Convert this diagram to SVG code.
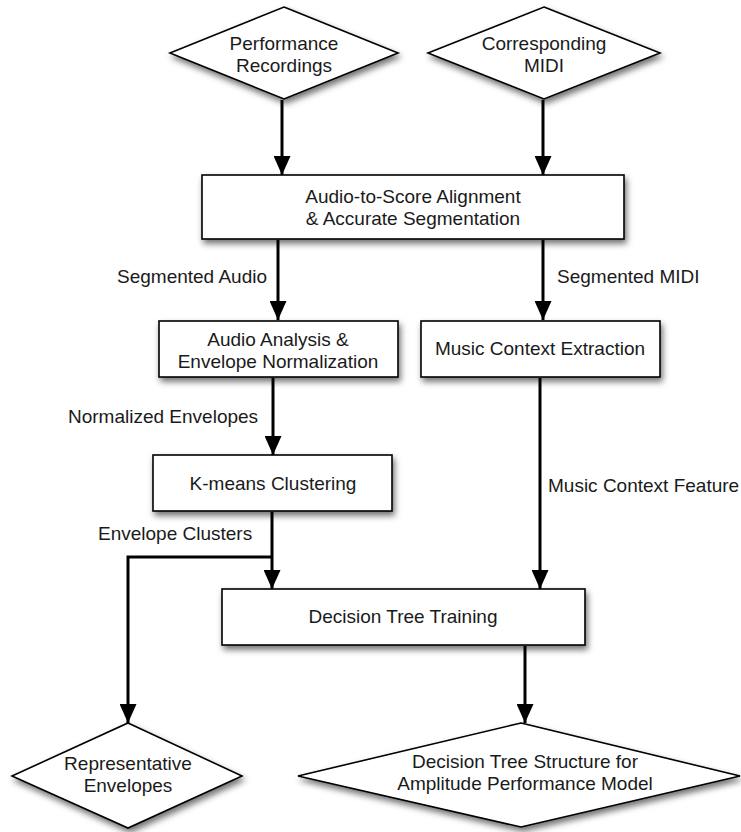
<svg xmlns="http://www.w3.org/2000/svg" width="741" height="832" viewBox="0 0 741 832">
  <defs>
    <filter id="shadow" x="-10%" y="-20%" width="130%" height="150%">
      <feDropShadow dx="2" dy="4" stdDeviation="3" flood-color="#000" flood-opacity="0.55"/>
    </filter>
    <marker id="arrow" markerUnits="userSpaceOnUse" markerWidth="19" markerHeight="17" refX="19" refY="8.5" orient="auto" viewBox="0 0 19 17">
      <path d="M0,0 L19,8.5 L0,17 Z" fill="#000"/>
    </marker>
  </defs>
  <style>
    .shape { fill: #fff; stroke: #000; stroke-width: 1.6; filter: url(#shadow); }
    .label { font-family: "Liberation Sans", Arial, sans-serif; font-size: 19px; fill: #1a1a1a; }
    .mid { text-anchor: middle; }
    .edge { fill: none; stroke: #000; stroke-width: 3; }
    .arrowed { marker-end: url(#arrow); }
  </style>
  <rect width="741" height="832" fill="#fff"/>

  <!-- connectors -->
  <g id="connectors">
    <path class="edge arrowed" d="M282,100 L282,175"/>
    <path class="edge arrowed" d="M543,100 L543,175"/>
    <path class="edge arrowed" d="M278,240 L278,320"/>
    <path class="edge arrowed" d="M543,240 L543,320"/>
    <path class="edge arrowed" d="M273,378 L273,455"/>
    <path class="edge arrowed" d="M540,378 L540,589"/>
    <path class="edge arrowed" d="M272,512 L272,589"/>
    <path class="edge arrowed" d="M272,557 L128,557 L128,723"/>
    <path class="edge arrowed" d="M525,646 L525,723"/>
    <text class="label" x="117" y="283">Segmented Audio</text>
    <text class="label" x="557" y="283">Segmented MIDI</text>
    <text class="label" x="68" y="423">Normalized Envelopes</text>
    <text class="label" x="98" y="540">Envelope Clusters</text>
    <text class="label" x="548" y="492">Music Context Feature</text>
  </g>

  <!-- inputs -->
  <g id="performance-recordings">
    <polygon class="shape" points="284,7 398,53 284,99 170,53"/>
    <text class="label mid" x="284" y="50">Performance</text>
    <text class="label mid" x="284" y="72">Recordings</text>
  </g>
  <g id="corresponding-midi">
    <polygon class="shape" points="544,7 660,53 544,99 428,53"/>
    <text class="label mid" x="544" y="50">Corresponding</text>
    <text class="label mid" x="544" y="72">MIDI</text>
  </g>

  <!-- processing steps -->
  <g id="alignment">
    <rect class="shape" x="202" y="175" width="422" height="64"/>
    <text class="label mid" x="413" y="203">Audio-to-Score Alignment</text>
    <text class="label mid" x="413" y="225">&amp; Accurate Segmentation</text>
  </g>
  <g id="audio-analysis">
    <rect class="shape" x="159" y="321" width="239" height="56"/>
    <text class="label mid" x="278" y="346">Audio Analysis &amp;</text>
    <text class="label mid" x="278" y="368">Envelope Normalization</text>
  </g>
  <g id="context-extraction">
    <rect class="shape" x="421" y="321" width="239" height="56"/>
    <text class="label mid" x="540" y="355">Music Context Extraction</text>
  </g>
  <g id="kmeans">
    <rect class="shape" x="153" y="455" width="239" height="56"/>
    <text class="label mid" x="273" y="490">K-means Clustering</text>
  </g>
  <g id="tree-training">
    <rect class="shape" x="222" y="589" width="363" height="56"/>
    <text class="label mid" x="403" y="623">Decision Tree Training</text>
  </g>

  <!-- outputs -->
  <g id="representative-envelopes">
    <polygon class="shape" points="128,723 242,776 128,828 12,776"/>
    <text class="label mid" x="128" y="770">Representative</text>
    <text class="label mid" x="128" y="792">Envelopes</text>
  </g>
  <g id="tree-structure">
    <polygon class="shape" points="521,723 740,776 521,827 298,776"/>
    <text class="label mid" x="525" y="768">Decision Tree Structure for</text>
    <text class="label mid" x="525" y="790">Amplitude Performance Model</text>
  </g>
</svg>
